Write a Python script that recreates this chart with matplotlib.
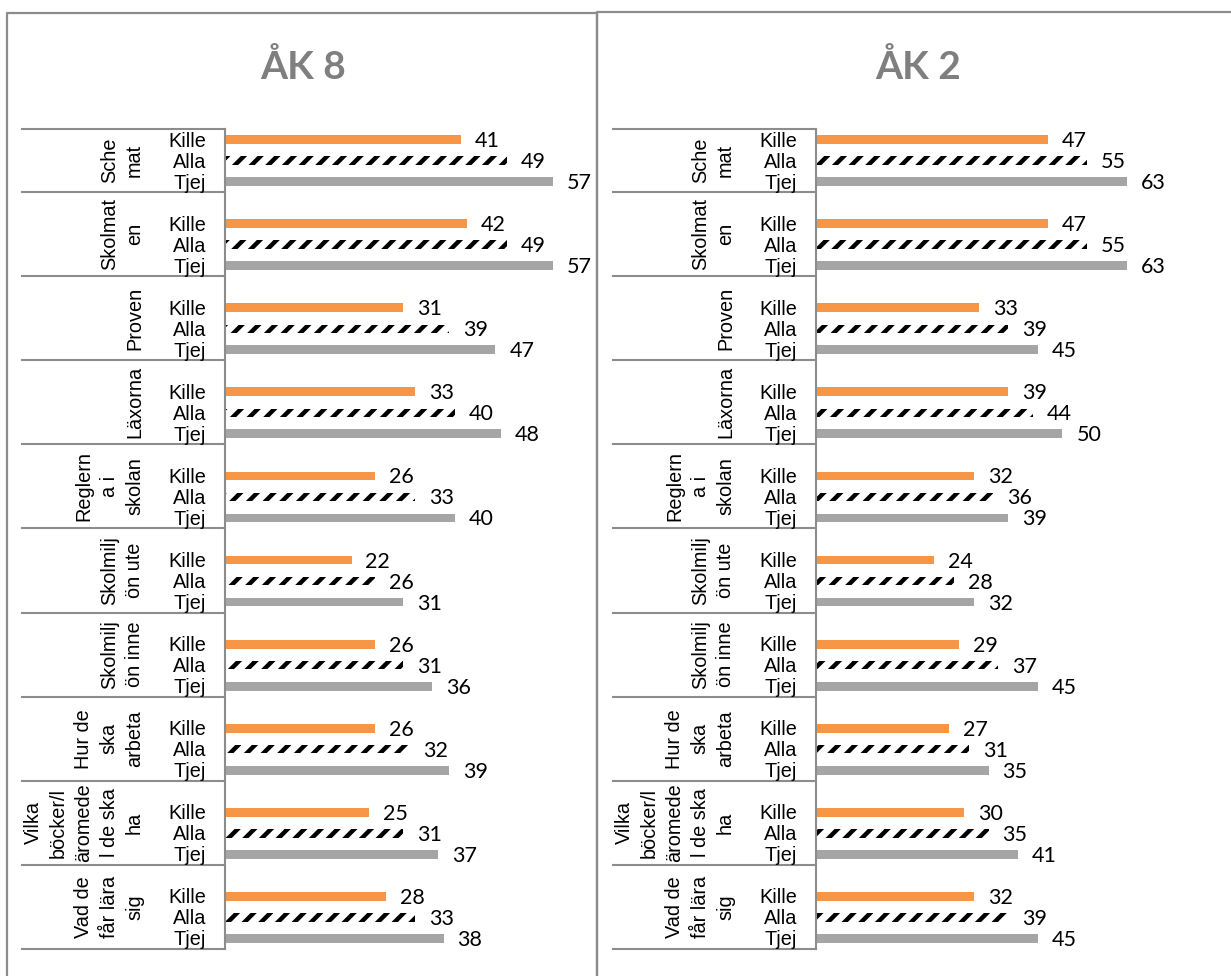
import numpy as np
import matplotlib
matplotlib.use("Agg")
import matplotlib.pyplot as plt
from matplotlib.lines import Line2D

# --- data -------------------------------------------------------------
groups = ["Sche\nmat", "Skolmat\nen", "Proven", "Läxorna", "Reglern\na i\nskolan",
          "Skolmilj\nön ute", "Skolmilj\nön inne", "Hur de\nska\narbeta",
          "Vilka\nböcker/l\näromede\nl de ska\nha", "Vad de\nfår lära\nsig"]
sub_labels = ["Kille", "Alla", "Tjej"]

ak8_kille = [41, 42, 31, 33, 26, 22, 26, 26, 25, 28]
ak8_alla = [49, 49, 39, 40, 33, 26, 31, 32, 31, 33]
ak8_tjej = [57, 57, 47, 48, 40, 31, 36, 39, 37, 38]

ak2_kille = [47, 47, 33, 39, 32, 24, 29, 27, 30, 32]
ak2_alla = [55, 55, 39, 44, 36, 28, 37, 31, 35, 39]
ak2_tjej = [63, 63, 45, 50, 39, 32, 45, 35, 41, 45]

W, H = 1231, 976
ORANGE = "#F79646"
GRAY = "#A5A5A5"
LINE = "#8C8C8C"
TITLE_C = "#7F7F7F"
NUM_FONT = "Lato"
CAT_FONT = "Liberation Sans"

plt.rcParams["hatch.linewidth"] = 3.2

fig = plt.figure(figsize=(W / 100, H / 100), dpi=100)


def fx(x):
    return x / W


def fy(y):
    return 1 - y / H


def panel(left_px, axis_right_px, xmax, title, title_x, kille, alla, tjej):
    axw = axis_right_px - left_px
    ax = fig.add_axes([fx(left_px), fy(949), axw / W, 820 / H])
    n = len(groups)
    base = np.arange(n) * 4
    for k, (vals, col) in enumerate([(kille, ORANGE), (alla, "white"), (tjej, GRAY)]):
        pos = base + k + 1
        if k == 1:
            # hatched "Alla" bars
            ax.barh(pos, vals, height=0.40, color="white", edgecolor="black",
                    linewidth=0, hatch="//")
        else:
            ax.barh(pos, vals, height=0.42, color=col, linewidth=0)
        for p, v in zip(pos, vals):
            ax.annotate(str(v), (v, p), xytext=(14, -7.5), textcoords="offset pixels",
                        ha="left", va="baseline", fontsize=15.5, family=NUM_FONT,
                        color="black", annotation_clip=False)
    ax.set_xlim(0, xmax)
    ax.set_ylim(4 * n - 0.5, 0.5)
    for s in ["top", "right", "bottom"]:
        ax.spines[s].set_visible(False)
    ax.spines["left"].set_color(LINE)
    ax.spines["left"].set_linewidth(1.5)
    ax.set_xticks([])
    ax.set_yticks([])

    tr = ax.get_yaxis_transform()
    left_edge = -203 / axw
    # table lines
    seps = [0.5] + list(base + 3.5)
    for s in seps:
        ax.plot([left_edge, 0], [s, s], color=LINE, lw=1.5, transform=tr, clip_on=False)
    # labels
    for g in range(n):
        top = max(base[g] - 0.5, 0.5)
        mid = (top + base[g] + 3.5) / 2
        ax.text(-81 / axw, mid, groups[g], rotation=90, ha="right", va="center",
                multialignment="center", linespacing=1.42, fontsize=14.3,
                family=CAT_FONT, transform=tr)
        for k, lab in enumerate(sub_labels):
            ax.annotate(lab, (-19 / axw, base[g] + k + 1), xycoords=tr,
                        xytext=(0, -7), textcoords="offset pixels",
                        ha="right", va="baseline", fontsize=14.3, family=CAT_FONT,
                        annotation_clip=False)
    fig.text(fx(title_x), fy(79), title, ha="center", va="baseline", fontsize=28,
             fontweight="bold", family=NUM_FONT, color=TITLE_C)
    return ax


panel(225, 570, 60, "ÅK 8", 303, ak8_kille, ak8_alla, ak8_tjej)
panel(816, 1161, 70, "ÅK 2", 918, ak2_kille, ak2_alla, ak2_tjej)

# panel borders
for xs, ys in [([7, 7, 597, 597], [H, 13, 13, H]),
               ([597, 597, W + 5], [H, 12, 12])]:
    fig.add_artist(Line2D([fx(x) for x in xs], [fy(y) for y in ys],
                          color=LINE, lw=1.6, transform=fig.transFigure))

fig.savefig("out.png", dpi=100)
